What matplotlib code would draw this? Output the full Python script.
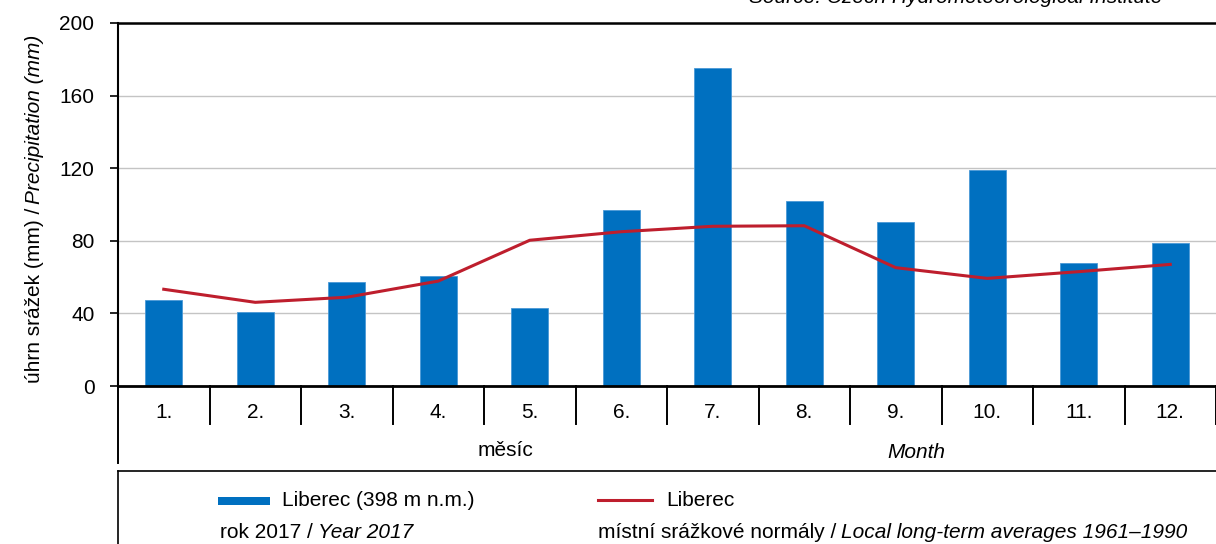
import matplotlib
matplotlib.use("Agg")
import matplotlib.pyplot as plt
from matplotlib.lines import Line2D
from matplotlib.patches import Rectangle
import matplotlib.transforms as mtransforms

plt.rcParams['font.family'] = ['Liberation Sans', 'DejaVu Sans']

months = ["1.", "2.", "3.", "4.", "5.", "6.", "7.", "8.", "9.", "10.", "11.", "12."]
precip_2017 = [47.5, 41, 57.5, 60.8, 43, 97, 175, 102, 90.4, 119, 67.8, 79]
normal_1961_1990 = [53.3, 46.1, 48.9, 57.8, 80.3, 85, 88, 88.3, 65.2, 59.3, 63, 67]
yticks = [0, 40, 80, 120, 160, 200]

BLUE = '#0070C0'
RED = '#BE1E2D'
FS = 15
W, H = 1216, 544
fig = plt.figure(figsize=(W / 100, H / 100), dpi=100)

ax_l, ax_r, ax_t, ax_b = 118, 1216, 23, 386
ax = fig.add_axes([ax_l / W, 1 - ax_b / H, (ax_r - ax_l) / W, (ax_b - ax_t) / H])
x = list(range(len(months)))
ax.bar(x, precip_2017, width=0.4, color=BLUE, edgecolor='#4a98d6', linewidth=0.6, zorder=2)
ax.plot(x, normal_1961_1990, color=RED, linewidth=2.2, zorder=3)
ax.set_xlim(-0.5, len(months) - 0.5)
ax.set_ylim(0, 200)
ax.set_yticks(yticks)
ax.set_yticklabels([str(v) for v in yticks], fontsize=FS)
ax.tick_params(axis='y', direction='out', length=6, width=1.2, pad=11, color='black')
ax.yaxis.grid(True, color='#c4c4c4', linewidth=1)
ax.set_axisbelow(True)
ax.set_xticks(x)
ax.set_xticklabels(months, fontsize=FS)
ax.tick_params(axis='x', length=0, pad=12.5)
ax.spines['right'].set_visible(False)
ax.spines['left'].set_linewidth(1.5)
ax.spines['top'].set_linewidth(1.8)
ax.spines['bottom'].set_linewidth(2)

# category dividers
trans = mtransforms.blended_transform_factory(ax.transData, ax.transAxes)
ah = ax_b - ax_t
for k in range(len(months) + 1):
    xv = k - 0.5
    y_end = -(424 - ax_b) / ah if k > 0 else -(463 - ax_b) / ah
    ax.add_line(Line2D([xv, xv], [0, y_end], transform=trans, color='black',
                       linewidth=1.4, clip_on=False))

def fx(px):
    return px / W

def fy(py):
    return 1 - py / H

fig.text(fx(505), fy(450), "měsíc", fontsize=FS, ha='center', va='center')
fig.text(fx(916), fy(452), "Month", fontsize=FS, ha='center', va='center', style='italic')

# source text (partly clipped at top, as in the reference)
fig.text(fx(1162), fy(3), "Source: Czech Hydrometeorological Institute", fontsize=FS,
         ha='right', va='baseline', style='italic')

# y label in two styles
fig.canvas.draw()
r = fig.canvas.get_renderer()
t1 = fig.text(fx(35), fy(383), "úhrn srážek (mm) /", fontsize=FS, rotation=90,
              ha='center', va='bottom')
bb1 = t1.get_window_extent(r)
t2 = fig.text(fx(35), (bb1.y1 + 4) / H, "Precipitation (mm)", fontsize=FS,
              rotation=90, ha='center', va='bottom', style='italic')

# legend box
fig.add_artist(Line2D([fx(118), 1.0], [fy(471), fy(471)], color='black', linewidth=1.2))
fig.add_artist(Line2D([fx(118), fx(118)], [fy(471), 0], color='black', linewidth=1.2))
fig.add_artist(Rectangle((fx(218), fy(505)), fx(270) - fx(218), fy(497) - fy(505),
                         facecolor=BLUE, edgecolor='none', transform=fig.transFigure))
fig.text(fx(282), fy(501), "Liberec (398 m n.m.)", fontsize=FS, ha='left', va='center')
fig.add_artist(Line2D([fx(598), fx(652)], [fy(500), fy(500)], color=RED, linewidth=2.2))
fig.text(fx(666), fy(501), "Liberec", fontsize=FS, ha='left', va='center')

def two_part(px, py, a, b):
    ta = fig.text(fx(px), fy(py), a, fontsize=FS, ha='left', va='center')
    bba = ta.get_window_extent(r)
    fig.text((bba.x1 + 5) / W, fy(py), b, fontsize=FS, ha='left', va='center', style='italic')

two_part(220, 533, "rok 2017 /", "Year 2017")
two_part(598, 533, "místní srážkové normály /", "Local long-term averages 1961–1990")

fig.savefig("out.png", dpi=100)
